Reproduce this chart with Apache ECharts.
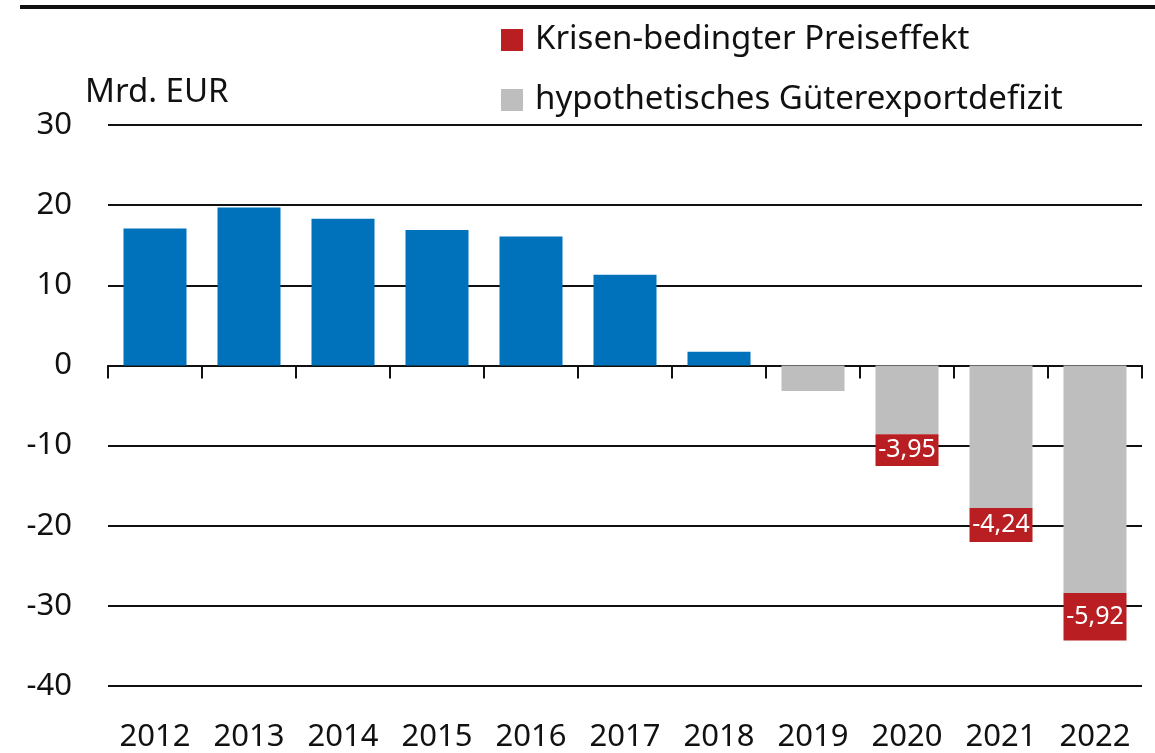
<!DOCTYPE html>
<html>
<head>
<meta charset="utf-8">
<script src="https://cdn.jsdelivr.net/npm/echarts@6/dist/echarts.min.js"></script>
<style>
html,body{margin:0;padding:0;background:#fff;}
#c{width:1155px;height:753px;}
</style>
</head>
<body>
<div id="c"></div>
<script>
const categories = ['2012','2013','2014','2015','2016','2017','2018','2019','2020','2021','2022'];
const blueValues = [17.1, 19.7, 18.3, 16.9, 16.1, 11.3, 1.7, '-', '-', '-', '-'];
const greyValues = ['-', '-', '-', '-', '-', '-', '-', -3.2, -8.6, -17.8, -28.4];
const redValues  = ['-', '-', '-', '-', '-', '-', '-', '-', -3.95, -4.24, -5.92];
const yTicks = [-40, -30, -20, -10, 0, 10, 20, 30];
const unitLabel = 'Mrd. EUR';
const nameRed = 'Krisen-bedingter Preiseffekt';
const nameGrey = 'hypothetisches Güterexportdefizit';

const FONT = 'Noto Sans';
const chart = echarts.init(document.getElementById('c'), null, {renderer: 'canvas'});
chart.setOption({
  animation: false,
  backgroundColor: '#fff',
  textStyle: {fontFamily: FONT, color: '#111'},
  grid: {left: 108, right: 13, top: 125, bottom: 62, containLabel: false},
  graphic: [
    {type: 'line', shape: {x1: 20, y1: 7, x2: 1155, y2: 7}, style: {stroke: '#111', lineWidth: 4}},
    {type: 'text', left: 85, top: 76, style: {text: unitLabel, font: '33px "Noto Sans"', fill: '#111'}}
  ],
  legend: {
    orient: 'vertical',
    left: 496,
    top: 18,
    itemWidth: 22,
    itemHeight: 22,
    itemGap: 26,
    icon: 'rect',
    data: [nameRed, nameGrey],
    textStyle: {fontFamily: FONT, fontSize: 33, lineHeight: 34, color: '#111', padding: [0, 0, 0, 7]}
  },
  xAxis: [
    {
      type: 'category',
      data: categories,
      position: 'bottom',
      axisLine: {show: false, onZero: false},
      axisTick: {show: false},
      axisLabel: {fontFamily: FONT, fontSize: 31, color: '#111', margin: 36}
    },
    {
      type: 'category',
      data: categories,
      position: 'top',
      axisLine: {show: true, onZero: true, lineStyle: {color: '#111', width: 2}},
      axisTick: {show: true, inside: true, length: 13, lineStyle: {color: '#111', width: 2}},
      axisLabel: {show: false}
    }
  ],
  yAxis: {
    type: 'value',
    min: -40,
    max: 30,
    interval: 10,
    axisLine: {show: false},
    axisTick: {show: false},
    axisLabel: {fontFamily: FONT, fontSize: 31, color: '#111', margin: 36,
      formatter: v => yTicks.includes(v) ? String(v) : ''},
    splitLine: {lineStyle: {color: '#111', width: 2}}
  },
  series: [
    {
      name: 'Saldo', type: 'bar', stack: 'a', xAxisIndex: 0,
      data: blueValues, barWidth: 63,
      itemStyle: {color: '#0072BB'}
    },
    {
      name: nameGrey, type: 'bar', stack: 'a', xAxisIndex: 0,
      data: greyValues, barWidth: 63,
      itemStyle: {color: '#BEBEBE'}
    },
    {
      name: nameRed, type: 'bar', stack: 'a', xAxisIndex: 0,
      data: redValues, barWidth: 63,
      itemStyle: {color: '#B81E22'},
      label: {
        show: true, position: 'inside', color: '#fff', fontFamily: FONT, fontSize: 25,
        formatter: p => String(p.value).replace('.', ',')
      }
    }
  ]
});
</script>
</body>
</html>
